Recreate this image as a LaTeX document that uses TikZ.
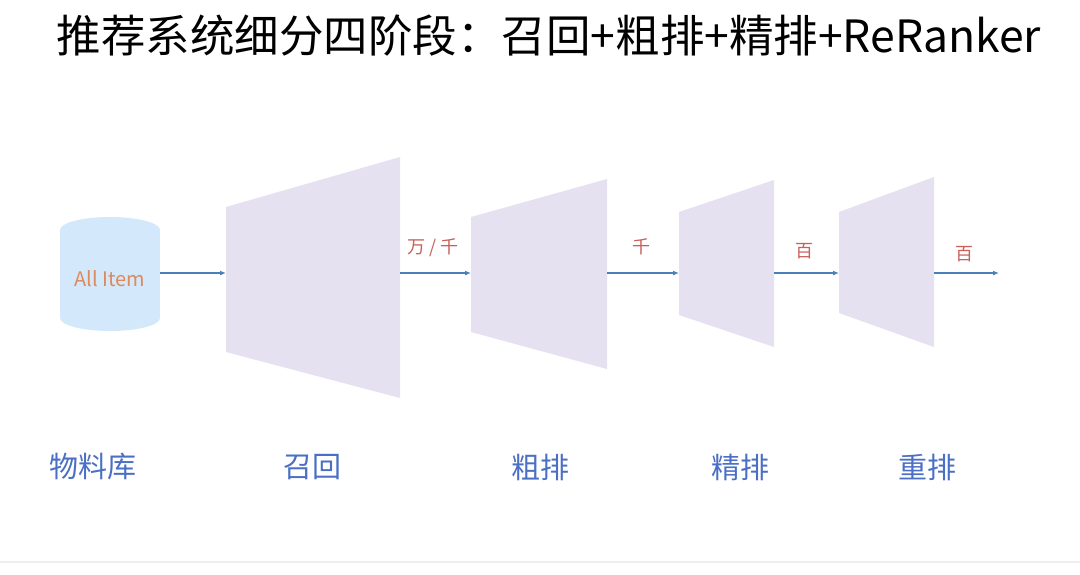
\documentclass[tikz,border=0pt]{standalone}
\usepackage{fontspec}
\setmainfont{Noto Sans CJK SC}
\usetikzlibrary{arrows.meta}

\definecolor{stagefill}{HTML}{E6E1F0}
\definecolor{dbfill}{HTML}{D3E8FB}
\definecolor{flowblue}{HTML}{4A80B8}
\definecolor{countred}{HTML}{C9605A}
\definecolor{itemorange}{HTML}{DD8A5E}
\definecolor{stageblue}{HTML}{4A6FC4}

\tikzset{
    stage/.style={fill=stagefill},
    flow/.style={flowblue, line width=1.6pt, -{Latex[length=6pt,width=5pt]}},
    count/.style={countred, font=\fontsize{18}{18}\selectfont},
    stagename/.style={stageblue, font=\fontsize{29}{29}\selectfont}
}

\begin{document}
\begin{tikzpicture}[x=1pt,y=-1pt]
    \fill[white] (0,0) rectangle (1080,574);
    \useasboundingbox (0,0) rectangle (1080,574);

    % Title
    \node (title) at (549,36) {\fontsize{44.5}{44.5}\selectfont 推荐系统细分四阶段：召回+粗排+精排+ReRanker};

    % The item pool
    \fill[dbfill] (110,230) ellipse (50 and 13);
    \fill[dbfill] (60,230) rectangle (160,318);
    \fill[dbfill] (110,318) ellipse (50 and 13);
    \node[minimum width=100pt, inner sep=0pt] (pool) at (110,273) {};
    \node[itemorange, font=\fontsize{20}{20}\selectfont] (poollabel) at (110,279) {All Item};

    % Corners of the stages
    \coordinate (recallL) at (226,273);
    \coordinate (recallR) at (400,273);
    \coordinate (coarseL) at (471,273);
    \coordinate (coarseR) at (607,273);
    \coordinate (fineL) at (679,273);
    \coordinate (fineR) at (774,273);
    \coordinate (rerankL) at (839,273);
    \coordinate (rerankR) at (934,273);
    \coordinate (out) at (999,273);

    % The stages
    \fill[stage] (226,207) -- (400,157) -- (400,398) -- (226,352) -- cycle;
    \fill[stage] (471,217) -- (607,179) -- (607,369) -- (471,332) -- cycle;
    \fill[stage] (679,212) -- (774,180) -- (774,347) -- (679,315) -- cycle;
    \fill[stage] (839,212) -- (934,177) -- (934,347) -- (839,313) -- cycle;

    % The flow
    \draw[flow] (pool.east) -- (recallL);
    \draw[flow] (recallR) -- (coarseL);
    \draw[flow] (coarseR) -- (fineL);
    \draw[flow] (fineR) -- (rerankL);
    \draw[flow] (rerankR) -- (out);
    \node[count] (n1) at (433,248) {万 / 千};
    \node[count] (n2) at (641,247) {千};
    \node[count] (n3) at (804,251) {百};
    \node[count] (n4) at (964,254) {百};

    % Stage names
    \node[stagename] (poolname) at (93,467) {物料库};
    \node[stagename] (recallname) at (312,467) {召回};
    \node[stagename] (coarsename) at (540,467) {粗排};
    \node[stagename] (finename) at (740,467) {精排};
    \node[stagename] (rerankname) at (927,467) {重排};

    \draw[color={rgb,255:red,236;green,239;blue,239}, line width=2pt] (0,562) -- (1080,562);
\end{tikzpicture}
\end{document}
